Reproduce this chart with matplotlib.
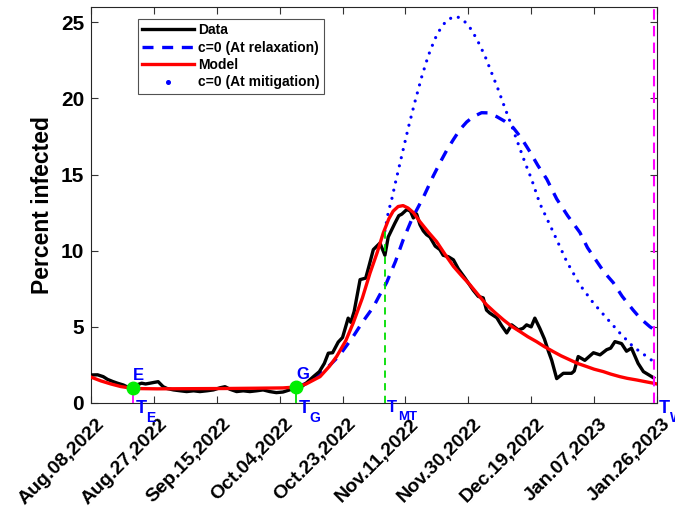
import matplotlib
matplotlib.use("Agg")
import matplotlib.pyplot as plt
import matplotlib.transforms as mtransforms
from matplotlib.lines import Line2D

plt.rcParams['font.family'] = ['Liberation Sans', 'DejaVu Sans']
plt.rcParams['font.weight'] = 'bold'

# ---- data (x = days since Aug.08,2022) ----
tick_days = [0, 19, 38, 57, 76, 95, 114, 133, 152, 171]
tick_labels = ["Aug.08,2022", "Aug.27,2022", "Sep.15,2022", "Oct.04,2022",
               "Oct.23,2022", "Nov.11,2022", "Nov.30,2022", "Dec.19,2022",
               "Jan.07,2023", "Jan.26,2023"]

data_days = [0, 2, 3.7, 5, 6.7, 8, 9.8, 11, 12.8, 14, 15.3, 16.5, 17.8, 19, 20.3, 21.8,
             23, 24.9, 27, 28.9, 31, 32.9, 35, 37, 39, 40.5, 42, 44, 46, 48, 50, 52, 54,
             56, 58, 60, 62, 63.6, 65, 67.2, 69, 70.5, 71.7, 73, 74.7, 76, 77.7, 78.5,
             79.5, 81.3, 83, 84, 85.3, 87.3, 88.8, 89.8, 91.8, 93, 93.9, 95.4, 96.5, 97.4,
             98.4, 99.4, 100.4, 101.4, 102.4, 104, 105.4, 106.4, 108, 109.5, 111, 113,
             115.5, 117, 118.5, 119.5, 120.5, 122.6, 124, 125.6, 127.1, 129.1, 130.5,
             131.6, 133, 134.1, 135.6, 137, 138.2, 139.2, 140.7, 142.7, 145.2, 146,
             147.2, 149.2, 151.8, 153.8, 155.8, 157, 158.3, 160.3, 161.8, 163.3, 165.3,
             166.9, 168.5, 170]
data_vals = [1.84, 1.85, 1.73, 1.55, 1.4, 1.3, 1.18, 1.05, 0.97, 1.2, 1.3, 1.25, 1.3, 1.35,
             1.4, 1.07, 0.95, 0.86, 0.8, 0.75, 0.8, 0.75, 0.8, 0.86, 1.0, 1.07, 0.9, 0.75,
             0.8, 0.75, 0.8, 0.86, 0.75, 0.68, 0.72, 0.86, 1.0, 1.07, 1.3, 1.73, 2.06, 2.6,
             3.27, 3.3, 4.0, 4.3, 5.57, 5.3, 6.0, 8.1, 8.2, 9.0, 10.07, 10.5, 9.7, 10.9,
             11.8, 12.3, 12.4, 12.7, 12.6, 12.15, 12.4, 11.7, 11.3, 11.05, 10.9, 10.3,
             10.07, 9.7, 9.6, 9.4, 8.8, 8.2, 7.4, 7.0, 6.9, 6.1, 5.9, 5.6, 5.1, 4.6, 5.13,
             4.8, 4.9, 5.13, 5.0, 5.57, 4.9, 4.2, 3.4, 2.8, 1.6, 1.95, 1.95, 2.1, 3.05, 2.8,
             3.3, 3.16, 3.5, 3.6, 4.03, 3.9, 3.4, 3.6, 2.6, 2.06, 1.85, 1.65]

model_days = [0, 3, 6, 9, 12.8, 20, 30, 40, 50, 58, 62, 65, 69.2, 72, 74.2, 77, 79.2, 82,
              84.3, 86.5, 88.3, 90, 91.3, 92.8, 94.3, 95.8, 97.4, 99.4, 102, 104.4, 107,
              109.5, 112, 114.5, 117, 119.5, 122, 124.6, 127, 129.6, 132, 134.6, 137,
              139.7, 142, 144.7, 147, 149.8, 152, 154.8, 157, 159.8, 162, 164.9, 167,
              169.9, 171]
model_vals = [1.7, 1.45, 1.25, 1.08, 0.95, 0.93, 0.94, 0.95, 0.97, 0.99, 1.05, 1.25, 1.73,
              2.4, 3.05, 4.1, 5.24, 6.9, 8.53, 9.9, 11.16, 12.1, 12.6, 12.9, 12.96, 12.8,
              12.5, 11.9, 11.2, 10.6, 9.75, 8.97, 8.35, 7.76, 7.1, 6.45, 5.95, 5.46, 5.05,
              4.69, 4.35, 4.03, 3.7, 3.37, 3.1, 2.83, 2.6, 2.39, 2.22, 2.06, 1.9, 1.73,
              1.62, 1.51, 1.42, 1.3, 1.25]

relax_days = [62, 66, 70.2, 75, 79.2, 82, 85.3, 87, 89.3, 92, 94.3, 97, 100.4, 103.4,
              105.5, 107.5, 109.5, 111.5, 113.5, 115.5, 118, 120, 122.6, 125, 127.6, 130,
              132.6, 135, 137.7, 140.7, 144, 147.7, 150, 152.8, 155, 157.8, 160.5, 163.8,
              166, 168.9, 171]
relax_vals = [1.0, 1.4, 2.06, 3.1, 4.36, 5.3, 6.3, 7.0, 7.9, 9.3, 10.7, 12.1, 13.5, 14.9,
              15.8, 16.6, 17.3, 17.96, 18.45, 18.8, 19.06, 19.05, 18.8, 18.5, 18.07, 17.4,
              16.5, 15.6, 14.7, 13.4, 12.3, 11.2, 10.2, 9.3, 8.6, 7.9, 7.0, 6.1, 5.55, 5.0,
              4.7]

mitig_days = [88.8, 89.8, 91, 91.8, 93.9, 95.9, 97.9, 99.9, 101.9, 103.9, 106, 108, 110.3,
              112.5, 115, 117, 119, 121, 123, 125, 127.1, 129.1, 131.1, 133.1, 135.6,
              139.7, 143.7, 147.7, 151.8, 155.8, 159.8, 163.8, 167.9, 171]
mitig_vals = [11.3, 12.5, 13.5, 14.3, 16.25, 18.1, 19.8, 21.4, 22.8, 23.9, 24.75, 25.2,
              25.4, 25.15, 24.5, 23.7, 22.8, 21.7, 20.6, 19.4, 18.2, 17.0, 15.8, 14.7,
              13.1, 11.2, 9.3, 7.76, 6.56, 5.57, 4.59, 3.7, 3.05, 2.55]

t_E, v_E = 12.8, 0.97
t_G, v_G = 62.0, 1.05
t_MT, v_MT = 88.8, 11.5
t_W = 170.0
x_end = 171

fig = plt.figure(figsize=(6.75, 5.12), dpi=100)
ax = fig.add_axes([0.1348, 0.2129, 0.8385, 0.7734])

l_data, = ax.plot(data_days, data_vals, color='black', lw=2.4, zorder=3)
l_relax, = ax.plot(relax_days, relax_vals, color='#0000ff', lw=2.4,
                   linestyle=(0, (3.3, 2.6)), zorder=2)
l_model, = ax.plot(model_days, model_vals, color='#ff0000', lw=2.4, zorder=4)
ax.plot(mitig_days, mitig_vals, color='#0000ff', lw=2.3, linestyle=(0, (0.01, 2.6)),
        dash_capstyle='round', zorder=2)
h_mitig = Line2D([], [], color='#0000ff', linestyle='none', marker='o', ms=2.6)

# vertical markers
ax.plot([t_E, t_E], [0, v_E], color='#ff00ff', lw=1.3, zorder=5)
ax.plot([t_G, t_G], [0, v_G], color='#00dd00', lw=1.3, zorder=5)
ax.plot([t_MT, t_MT], [0, v_MT], color='#00dd00', lw=1.3, linestyle=(0, (4, 3)), zorder=5)
ax.plot([t_W, t_W], [0, 26], color='#ff00ff', lw=1.5, linestyle=(0, (5, 3)), zorder=5)

ax.plot([t_E, t_G], [v_E, v_G], linestyle='none', marker='o', ms=9,
        color='#00ee00', zorder=6)

ax.text(t_E, v_E + 0.35, 'E', color='#0000ff', fontsize=12, fontweight='bold',
        ha='left', va='bottom')
ax.text(t_G, v_G + 0.35, 'G', color='#0000ff', fontsize=12, fontweight='bold',
        ha='left', va='bottom')

def tlabel(x, sub, tsize=13, ssize=10):
    ax.annotate('T', xy=(x, 0), xytext=(1.5, 2), textcoords='offset points',
                color='#0000ff', fontsize=tsize, fontweight='bold', ha='left', va='top',
                annotation_clip=False, zorder=7)
    ax.annotate(sub, xy=(x, 0), xytext=(9.5, -6), textcoords='offset points',
                color='#0000ff', fontsize=ssize, fontweight='bold', ha='left', va='top',
                annotation_clip=False, zorder=7)

tlabel(t_E, 'E')
tlabel(t_G, 'G')
tlabel(t_MT, 'MT', tsize=12, ssize=9.5)
tlabel(x_end, 'W')

ax.set_xlim(0, x_end)
ax.set_ylim(0, 26)
ax.set_yticks([0, 5, 10, 15, 20, 25])
ax.set_xticks(tick_days)
ax.set_xticklabels([])
lab_tr = ax.get_xaxis_transform() + mtransforms.ScaledTranslation(
    3.6 / 72, -9.0 / 72, fig.dpi_scale_trans)
for d, lab in zip(tick_days, tick_labels):
    ax.text(d, 0, lab, transform=lab_tr, rotation=45, ha='right', va='top',
            rotation_mode='anchor', fontsize=14, fontweight='bold', clip_on=False)
ax.tick_params(axis='y', labelsize=15, pad=5)
ax.tick_params(direction='in', top=True, right=True, length=5, width=0.8,
               color='#333333')
for lab in ax.get_yticklabels():
    lab.set_fontweight('bold')
for s in ax.spines.values():
    s.set_linewidth(0.8)
    s.set_color('#262626')
ax.set_ylabel('Percent infected', fontsize=16.5, fontweight='bold', labelpad=5)

leg = ax.legend([l_data, l_relax, l_model, h_mitig],
                ['Data', 'c=0 (At relaxation)', 'Model', 'c=0 (At mitigation)'],
                loc='upper left', bbox_to_anchor=(0.083, 0.970), borderaxespad=0,
                frameon=True, fancybox=False, edgecolor='#262626', handlelength=3.7,
                borderpad=0.3, labelspacing=0.25, handletextpad=0.35, numpoints=1,
                prop={'weight': 'bold', 'size': 10})
leg.get_frame().set_linewidth(0.8)

fig.savefig('out.png', dpi=100)
